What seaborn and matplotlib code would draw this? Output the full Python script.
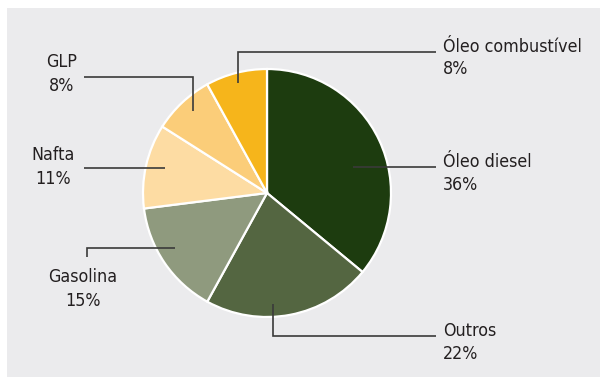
import matplotlib
matplotlib.use("Agg")
import matplotlib.pyplot as plt
from matplotlib import font_manager
from matplotlib.patches import Rectangle
import seaborn as sns

# Consumo de derivados por produto (%)
categorias = ["Óleo diesel", "Outros", "Gasolina", "Nafta", "GLP", "Óleo combustível"]
valores = [36, 22, 15, 11, 8, 8]
cores = ["#1d3c0f", "#546641", "#8f9a7e", "#fddca3", "#fbcd79", "#f6b51b"]

sns.set_theme(style="white")

# fonte estreita, se houver uma versão condensada instalada
caminho = font_manager.findfont(
    font_manager.FontProperties(family="DejaVu Sans", stretch="condensed"))
if "Condensed" in caminho:
    fonte = dict(family=["DejaVu Sans"], fontstretch="condensed", fontsize=12.8)
else:
    fonte = dict(family=["Liberation Sans", "DejaVu Sans"], fontsize=12)
plt.rcParams["font.family"] = fonte["family"]

W, H = 600, 377
fig = plt.figure(figsize=(W / 100, H / 100), dpi=100)
fig.patch.set_facecolor("white")

ax = fig.add_axes([0, 0, 1, 1])
ax.patch.set_alpha(0)


def py(y):
    """Converte coordenada vertical medida a partir do topo."""
    return H - y


# painel cinza de fundo
ax.add_patch(Rectangle((7, 0), W - 7, H - 8, facecolor="#ebebed",
                       edgecolor="none", zorder=0))

cx, cy, r = 267, 193, 124
wedges, _ = ax.pie(valores, colors=cores, startangle=90, counterclock=False,
                   center=(cx, py(cy)), radius=r,
                   wedgeprops=dict(edgecolor="white", linewidth=1.6),
                   frame=True)
for w in wedges:
    w.set_zorder(2)
ax.set_xlim(0, W)
ax.set_ylim(0, H)
ax.set_aspect("equal")
ax.axis("off")

txt_color = "#231f20"
line_kw = dict(color="#3a3a3a", linewidth=1.2, solid_capstyle="butt",
               solid_joinstyle="miter", zorder=5)

# linhas de chamada (em pixels a partir do topo)
chamadas = {
    "Óleo combustível": [(238, 83), (238, 52), (436, 52)],
    "GLP": [(193, 111), (193, 77), (84, 77)],
    "Nafta": [(165, 168), (84, 168)],
    "Óleo diesel": [(353, 167), (436, 167)],
    "Gasolina": [(175, 248), (87, 248), (87, 257)],
    "Outros": [(273, 304), (273, 336), (436, 336)],
}
for pts in chamadas.values():
    xs = [p[0] for p in pts]
    ys = [py(p[1]) for p in pts]
    ax.plot(xs, ys, **line_kw)

# rótulos: (x, baseline do nome, baseline do percentual, alinhamento)
rotulos = {
    "Óleo combustível": (443, 52, 74, "left"),
    "Óleo diesel": (443, 167, 190, "left"),
    "Outros": (443, 336, 359, "left"),
    "GLP": (62, 67, 91, "center"),
    "Nafta": (53.5, 160, 184, "center"),
    "Gasolina": (83, 282, 306, "center"),
}
estilo = {k: v for k, v in fonte.items() if k != "family"}
for nome, valor in zip(categorias, valores):
    x, y1, y2, ha = rotulos[nome]
    ax.text(x, py(y1), nome, ha=ha, va="baseline", color=txt_color,
            zorder=6, **estilo)
    ax.text(x, py(y2), f"{valor}%", ha=ha, va="baseline", color=txt_color,
            zorder=6, **estilo)

fig.savefig("out.png", dpi=100, facecolor=fig.get_facecolor())
